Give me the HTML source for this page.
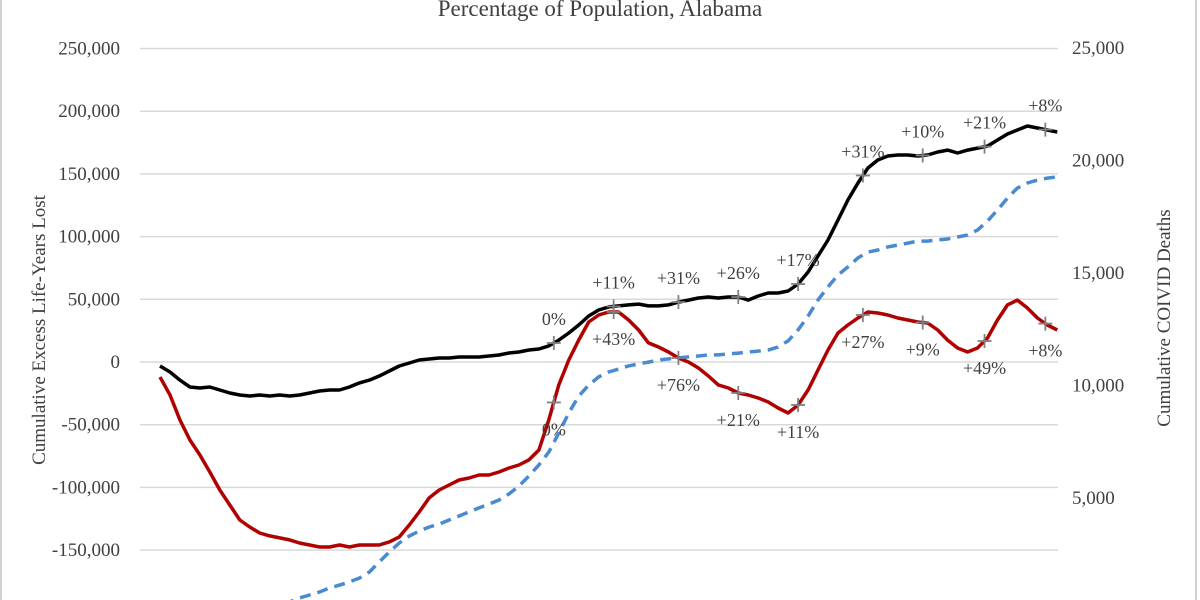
<!DOCTYPE html>
<html><head><meta charset="utf-8"><style>
html,body{margin:0;padding:0;background:#fff;}
svg{display:block;font-family:"Liberation Serif",serif;}
</style></head><body>
<svg id="chart" width="1200" height="600" viewBox="0 0 1200 600" xmlns="http://www.w3.org/2000/svg">
<rect x="0" y="0" width="1200" height="600" fill="#fff"/>
<line x1="1" y1="0" x2="1" y2="600" stroke="#d0d0d0" stroke-width="2"/>
<line x1="1196" y1="0" x2="1196" y2="600" stroke="#d0d0d0" stroke-width="2"/>
<text x="600" y="16" text-anchor="middle" font-size="23" fill="#404040">Percentage of Population, Alabama</text>
<text transform="translate(45,330) rotate(-90)" text-anchor="middle" font-size="19" fill="#404040">Cumulative Excess Life-Years Lost</text>
<text transform="translate(1170,318) rotate(-90)" text-anchor="middle" font-size="19" fill="#404040">Cumulative COIVID Deaths</text>
<g id="grid"></g><g id="lticks"></g><g id="rticks"></g>
<defs><clipPath id="clip"><rect x="0" y="0" width="1200" height="600"/></clipPath></defs>
<g id="series" clip-path="url(#clip)"></g>
<g id="markers"></g>
</svg>
<script>
const leftTicks=[250000,200000,150000,100000,50000,0,-50000,-100000,-150000];
const rightTicks=[25000,20000,15000,10000,5000];
// cumulative excess life-years lost (thousands), weekly index 0..90
const blackSeries=[-3.2,-8.0,-14.4,-19.9,-20.7,-19.9,-22.3,-24.7,-26.3,-27.1,-26.3,-27.1,-26.3,-27.1,-26.3,-24.7,-23.1,-22.3,-22.3,-19.9,-16.7,-14.4,-11.2,-7.2,-3.2,-0.8,1.6,2.4,3.2,3.2,4.0,4.0,4.0,4.8,5.6,7.2,8.0,9.6,10.4,12.8,17.5,23.1,29.5,36.7,41.5,43.9,44.7,45.5,46.2,44.7,44.7,45.5,47.8,49.4,51.0,51.8,51.0,51.8,51.8,49.4,52.6,55.0,55.0,56.6,62.2,71.8,84.5,97.3,113.2,129.2,142.7,154.7,161.1,164.3,165.1,165.1,164.3,165.1,167.5,169.0,166.7,169.0,170.6,172.2,177.0,181.8,185.0,188.2,186.6,185.0,183.4];
const redSeries=[-12.0,-26.3,-46.2,-62.2,-74.2,-87.7,-102.1,-114.0,-126.0,-131.6,-136.4,-138.7,-140.3,-141.9,-144.3,-145.9,-147.5,-147.5,-145.9,-147.5,-145.9,-145.9,-145.9,-143.5,-139.5,-130.0,-119.6,-108.4,-102.1,-98.1,-94.1,-92.5,-90.1,-90.1,-87.7,-84.5,-82.1,-78.1,-70.2,-46.2,-18.3,1.6,17.5,31.9,37.5,39.9,39.9,33.5,25.5,15.2,12.0,8.0,3.2,0,-4.8,-11.2,-18.3,-20.7,-24.7,-26.3,-28.7,-31.9,-36.7,-40.7,-34.3,-22.3,-6.4,9.6,23.1,29.5,35.1,39.9,39.1,37.5,35.1,33.5,31.9,31.1,25.5,17.5,11.2,8.0,11.2,19.1,33.5,45.5,49.4,43.1,35.1,29.5,25.5];
// cumulative covid deaths (thousands), right axis
const blueSeries=[0,0,0,0,0,0,0,0,0,0,0,0,0,0.38,0.56,0.69,0.82,1.0,1.13,1.27,1.44,1.71,2.16,2.60,3.0,3.31,3.53,3.71,3.84,4.02,4.2,4.38,4.56,4.73,4.91,5.18,5.53,5.98,6.47,7.04,7.89,8.78,9.53,10.02,10.38,10.6,10.73,10.87,10.96,11.04,11.13,11.18,11.22,11.27,11.31,11.36,11.36,11.4,11.44,11.49,11.53,11.58,11.71,11.98,12.47,13.09,13.8,14.38,14.91,15.27,15.67,15.93,16.02,16.16,16.24,16.33,16.42,16.42,16.47,16.51,16.6,16.69,16.91,17.31,17.8,18.33,18.78,19.0,19.13,19.22,19.27];
const markerIdx=[39.5,45.5,52,58,64,70.5,76.5,82.7,88.8];
const blackLabels=["0%","+11%","+31%","+26%","+17%","+31%","+10%","+21%","+8%"];
const redLabels=["0%","+43%","+76%","+21%","+11%","+27%","+9%","+49%","+8%"];

const NS="http://www.w3.org/2000/svg";
const X0=160,XS=9.97;
const xs=i=>X0+XS*i;
const yL=v=>362-v/50000*62.7;
const yR=v=>610.5-v/5000*112.5;
function mk(tag,attrs,parent){const e=document.createElementNS(NS,tag);for(const k in attrs)e.setAttribute(k,attrs[k]);parent.appendChild(e);return e;}
const grid=document.getElementById('grid'),lt=document.getElementById('lticks'),rt=document.getElementById('rticks');
leftTicks.forEach(t=>{
  const l=mk('line',{x1:140,x2:1058,y1:yL(t),y2:yL(t),stroke:'#d9d9d9','stroke-width':1.5},grid);
  
  
  const tx=mk('text',{x:120,y:yL(t)+6,'text-anchor':'end','font-size':19,fill:'#404040'},lt);
  tx.textContent=t.toLocaleString('en-US');
  
  
});
rightTicks.forEach(t=>{
  const tx=mk('text',{x:1072,y:yR(t)+6,'text-anchor':'start','font-size':19,fill:'#404040'},rt);
  tx.textContent=t.toLocaleString('en-US');
  
  
});
const sg=document.getElementById('series');
function path(arr,yf,scale){return arr.map((v,i)=>(i?'L':'M')+xs(i).toFixed(1)+','+yf(v*scale).toFixed(1)).join('');}
const pb=mk('path',{d:path(blueSeries,yR,1000),fill:'none',stroke:'#4a8ad0','stroke-width':3.5,'stroke-dasharray':'11,7'},sg);


const pr=mk('path',{d:path(redSeries,yL,1000),fill:'none',stroke:'#b00000','stroke-width':3.5,'stroke-linejoin':'round'},sg);


const pk=mk('path',{d:path(blackSeries,yL,1000),fill:'none',stroke:'#000','stroke-width':3.5,'stroke-linejoin':'round'},sg);


const mg=document.getElementById('markers');
function interp(arr,f){const i=Math.floor(f),t=f-i;const a=arr[i],b=arr[Math.min(i+1,arr.length-1)];return a+(b-a)*t;}
function plus(x,y){
  const g=mk('g',{},mg);
  
  
  mk('line',{x1:x-7,x2:x+7,y1:y,y2:y,stroke:'#808080','stroke-width':1.8},g);
  mk('line',{x1:x,x2:x,y1:y-7,y2:y+7,stroke:'#808080','stroke-width':1.8},g);
}
markerIdx.forEach((f,k)=>{
  const x=X0+XS*f;
  const yb=yL(interp(blackSeries,f)*1000), yr=yL(interp(redSeries,f)*1000);
  plus(x,yb);plus(x,yr);
  const t1=mk('text',{x:x,y:yb-18,'text-anchor':'middle','font-size':18,fill:'#404040'},mg);
  t1.textContent=blackLabels[k];
  
  
  const t2=mk('text',{x:x,y:yr+33,'text-anchor':'middle','font-size':18,fill:'#404040'},mg);
  t2.textContent=redLabels[k];
  
  
});
</script>
</body></html>
